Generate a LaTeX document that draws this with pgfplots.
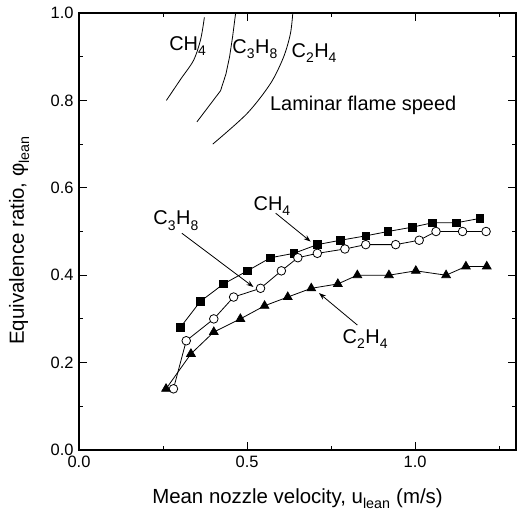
\documentclass[border=0pt]{standalone}
\usepackage{fontspec}
\setmainfont{Liberation Sans}
\usepackage{pgfplots}
\pgfplotsset{compat=1.18}
\usetikzlibrary{arrows.meta}
\newcommand{\sub}[1]{\raisebox{-0.1em}{\textsubscript{#1}}}
\begin{document}
\begin{tikzpicture}
\begin{axis}[
  name=ax,
  scale only axis, width=437bp, height=437bp,
  xmin=0, xmax=1.3, ymin=0, ymax=1.0,
  xtick={0,0.5,1.0}, ytick={0,0.2,0.4,0.6,0.8,1.0},
  minor xtick={0.25,0.75,1.25}, minor ytick={0.1,0.3,0.5,0.7,0.9},
  tick align=inside, major tick length=8bp, minor tick length=4bp,
  every tick/.style={black, line width=0.9bp},
  axis line style={line width=1.2bp},
  /pgf/number format/assume math mode=true,
  /pgf/number format/.cd, fixed, fixed zerofill, precision=1, /pgfplots/.cd,
  tick label style={font=\fontsize{16.5}{19}\selectfont},
  xticklabel style={yshift=-3bp},
  yticklabel style={xshift=-2bp},
  xlabel={Mean nozzle velocity, u\sub{lean} (m/s)},
  ylabel={Equivalence ratio, φ\sub{lean}},
  label style={font=\fontsize{20.5}{24}\selectfont},
  xlabel style={at={(axis description cs:0.5,-0.112)}, anchor=center},
  ylabel style={at={(axis description cs:-0.137,0.48)}, anchor=center},
  clip=false,
]
% laminar flame speed curves
\addplot[black, line width=0.8bp, smooth] coordinates {(0.260,0.800) (0.302,0.848) (0.341,0.892) (0.362,0.940) (0.373,0.990)};
\addplot[black, line width=0.8bp] coordinates {(0.351,0.751) (0.421,0.822) (0.437,0.860) (0.448,0.900) (0.457,0.946) (0.466,1.0)};
\addplot[black, line width=0.8bp, smooth] coordinates {(0.398,0.700) (0.500,0.770) (0.570,0.839) (0.609,0.900) (0.629,0.953) (0.636,1.0)};
% CH4
\addplot[black, line width=0.8bp, mark=square*, mark size=3.8bp, mark options={solid, fill=black}] coordinates {
(0.301,0.28) (0.361,0.34) (0.430,0.38) (0.501,0.41) (0.570,0.44) (0.639,0.45) (0.709,0.47) (0.778,0.48) (0.853,0.49) (0.919,0.50) (0.992,0.51) (1.052,0.52) (1.123,0.52) (1.193,0.53)};
% C3H8
\addplot[black, line width=0.8bp, mark=*, mark size=4.3bp, mark options={solid, fill=white, draw=black, line width=0.8bp}] coordinates {
(0.281,0.14) (0.319,0.25) (0.401,0.30) (0.460,0.35) (0.540,0.37) (0.602,0.41) (0.651,0.44) (0.709,0.45) (0.791,0.46) (0.853,0.47) (0.942,0.47) (1.012,0.48) (1.062,0.50) (1.141,0.50) (1.211,0.50)};
% C2H4
\addplot[black, line width=0.8bp, mark=triangle*, mark size=5bp, mark options={solid, fill=black}] coordinates {
(0.259,0.14) (0.333,0.22) (0.401,0.27) (0.480,0.30) (0.552,0.33) (0.621,0.35) (0.691,0.37) (0.770,0.38) (0.828,0.40) (0.922,0.40) (1.002,0.41) (1.092,0.40) (1.151,0.42) (1.213,0.42)};
% annotations
\begin{scope}[every node/.style={inner sep=0pt, anchor=base west, font=\fontsize{20}{24}\selectfont}]
\node at (axis cs:0.268,0.915) {CH\sub{4}};
\node at (axis cs:0.456,0.908) {C\sub{3}H\sub{8}};
\node at (axis cs:0.632,0.899) {C\sub{2}H\sub{4}};
\node at (axis cs:0.568,0.778) {Laminar flame speed};
\node at (axis cs:0.221,0.515) {C\sub{3}H\sub{8}};
\node at (axis cs:0.519,0.549) {CH\sub{4}};
\node at (axis cs:0.784,0.244) {C\sub{2}H\sub{4}};
\end{scope}
\draw[line width=0.8bp, -{Stealth[length=7bp,width=5bp]}] (axis cs:0.306,0.496) -- (axis cs:0.519,0.373);
\draw[line width=0.8bp, -{Stealth[length=7bp,width=5bp]}] (axis cs:0.585,0.542) -- (axis cs:0.689,0.477);
\draw[line width=0.8bp, -{Stealth[length=7bp,width=5bp]}] (axis cs:0.828,0.286) -- (axis cs:0.714,0.359);
\end{axis}
\pgfresetboundingbox
\path[use as bounding box] ([xshift=-79bp,yshift=-65bp]ax.south west) rectangle ([xshift=2bp,yshift=13bp]ax.north east);
\end{tikzpicture}
\end{document}
